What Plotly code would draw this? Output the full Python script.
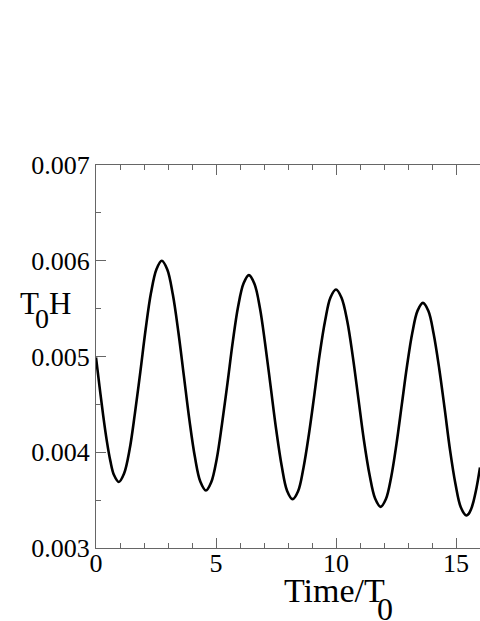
import plotly.graph_objects as go

# values
time = [0.0, 0.15, 0.30, 0.45, 0.60, 0.75,
        0.95, 1.17, 1.40, 1.62, 1.85, 2.07, 2.29, 2.52,
        2.74, 2.97, 3.20, 3.43, 3.66, 3.89, 4.12, 4.35,
        4.58, 4.80, 5.03, 5.25, 5.48, 5.70, 5.92, 6.15,
        6.37, 6.60, 6.83, 7.05, 7.28, 7.51, 7.74, 7.96,
        8.19, 8.42, 8.64, 8.87, 9.10, 9.32, 9.55, 9.77,
        10.0, 10.23, 10.47, 10.70, 10.93, 11.16, 11.40, 11.63,
        11.86, 12.08, 12.30, 12.52, 12.74, 12.96, 13.18, 13.40,
        13.62, 13.85, 14.07, 14.30, 14.53, 14.75, 14.98, 15.20,
        15.43, 15.53, 15.63, 15.73, 15.83, 15.92, 16.0]
t0h = [0.004990, 0.004681, 0.004382, 0.004119, 0.003907, 0.003762,
       0.003690, 0.003778, 0.004028, 0.004403, 0.004845, 0.005287, 0.005662, 0.005912,
       0.006000, 0.005909, 0.005649, 0.005259, 0.004800, 0.004341, 0.003952, 0.003691,
       0.003600, 0.003686, 0.003930, 0.004295, 0.004725, 0.005155, 0.005520, 0.005764,
       0.005850, 0.005761, 0.005507, 0.005128, 0.004680, 0.004232, 0.003853, 0.003599,
       0.003510, 0.003593, 0.003831, 0.004186, 0.004605, 0.005024, 0.005379, 0.005617,
       0.005700, 0.005614, 0.005368, 0.004999, 0.004565, 0.004131, 0.003762, 0.003516,
       0.003430, 0.003511, 0.003742, 0.004087, 0.004495, 0.004903, 0.005248, 0.005479,
       0.005560, 0.005476, 0.005235, 0.004875, 0.004450, 0.004025, 0.003665, 0.003425,
       0.003340, 0.003357, 0.003406, 0.003487, 0.003597, 0.003718, 0.003840]

x_ticks = [0, 5, 10, 15]
y_ticks = [0.003, 0.004, 0.005, 0.006, 0.007]
y_labels = ["0.003", "0.004", "0.005", "0.006", "0.007"]

font = "Liberation Serif"
axis_col = "#666666"

W, H = 480, 621
L, R, T, B = 96, 0, 165, 73


def px(x):
    # pixel column -> paper x
    return (x - L) / (W - L - R)


def py(y):
    # pixel row -> paper y
    return (H - B - y) / (H - T - B)


fig = go.Figure(go.Scatter(x=time, y=t0h, mode="lines",
                           line=dict(color="black", width=2.6, shape="spline", smoothing=1.0)))

fig.update_xaxes(range=[0, 16], tickvals=x_ticks, ticks="inside", ticklen=10,
                 tickcolor=axis_col, showline=True, linecolor=axis_col, linewidth=1,
                 mirror="ticks", showgrid=False, zeroline=False, automargin=False,
                 ticklabelstandoff=-8,
                 tickfont=dict(family=font, size=26, color="black"),
                 minor=dict(dtick=1, ticks="inside", ticklen=5, tickcolor=axis_col))
fig.update_yaxes(range=[0.003, 0.007], tickvals=y_ticks, ticktext=y_labels,
                 ticks="inside", ticklen=10, tickcolor=axis_col, showline=True,
                 linecolor=axis_col, linewidth=1, mirror=False, showgrid=False,
                 zeroline=False, automargin=False, ticklabelstandoff=0,
                 tickfont=dict(family=font, size=26, color="black"),
                 minor=dict(dtick=0.0005, ticks="inside", ticklen=5, tickcolor=axis_col))

# y title "T0H" (subscript drawn full size, shifted down)
ann = [("T", 41, 303, "right", 31), ("0", 42, 318, "center", 28), ("H", 47, 303, "left", 31),
       # x title "Time/T0"
       ("Time/T", 282, 590, "left", 34), ("0", 385, 609, "center", 32)]
for txt, x, y, anchor, size in ann:
    fig.add_annotation(text=txt, xref="paper", yref="paper", x=px(x), y=py(y),
                       xanchor=anchor, yanchor="middle", showarrow=False,
                       font=dict(family=font, size=size, color="black"))

fig.update_layout(width=W, height=H, showlegend=False,
                  margin=dict(l=L, r=R, t=T, b=B),
                  plot_bgcolor="white", paper_bgcolor="white")

fig.write_html("out.html", config={"displayModeBar": False},
               post_script="document.body.style.margin='0';")
